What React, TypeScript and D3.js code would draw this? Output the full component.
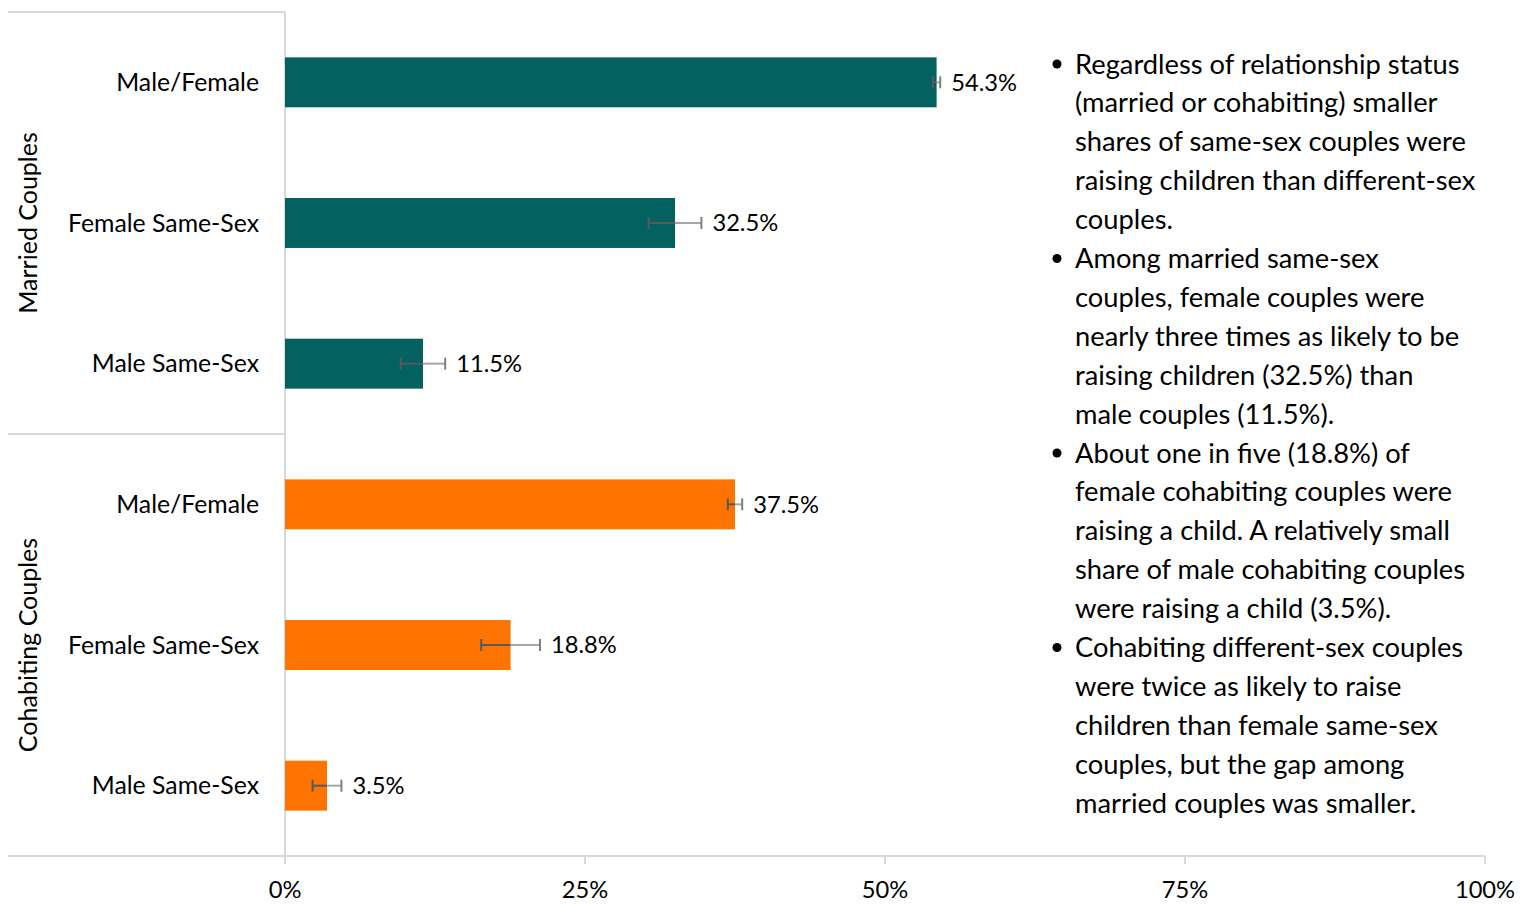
import React from "react";
import * as d3 from "d3";

const categories = ["Male/Female", "Female Same-Sex", "Male Same-Sex", "Male/Female", "Female Same-Sex", "Male Same-Sex"];
const groupOf = ["married", "married", "married", "cohab", "cohab", "cohab"];
const values = [54.3, 32.5, 11.5, 37.5, 18.8, 3.5];
const errors = [0.3, 2.2, 1.85, 0.6, 2.45, 1.2];
const groups = [
  { key: "married", label: "Married Couples" },
  { key: "cohab", label: "Cohabiting Couples" },
];
const ticks = [0, 25, 50, 75, 100];
const bulletParas = [
  ["Regardless of relationship status", "(married or cohabiting) smaller", "shares of same-sex couples were", "raising children than different-sex", "couples."],
  ["Among married same-sex", "couples, female couples were", "nearly three times as likely to be", "raising children (32.5%) than", "male couples (11.5%)."],
  ["About one in five (18.8%) of", "female cohabiting couples were", "raising a child. A relatively small", "share of male cohabiting couples", "were raising a child (3.5%)."],
  ["Cohabiting different-sex couples", "were twice as likely to raise", "children than female same-sex", "couples, but the gap among", "married couples was smaller."],
];

const W = 1533, H = 904;
const FONT = "Lato, 'Open Sans', sans-serif";
const colors: Record<string, string> = { married: "#03625F", cohab: "#FF7300" };

export default function App() {
  const x = d3.scaleLinear().domain([0, 100]).range([285, 1485]);
  const idx = categories.map((_, i) => i);
  const y = d3.scaleBand<number>().domain(idx).range([12, 856]).paddingInner(0.645).paddingOuter(0.3225);
  const step = y.step();
  const fmt = (v: number) => v.toFixed(1) + "%";
  const gridColor = "#D9D9D9";
  const lineH = 38.9;
  let lineCount = 0;
  return (
    <svg width={W} height={H} style={{ position: "absolute", left: 0, top: 0, fontFamily: FONT }}>
      <rect width={W} height={H} fill="#fff" />
      <line x1={8} x2={x(100)} y1={856} y2={856} stroke={gridColor} strokeWidth={2} />
      {ticks.map((t) => (
        <g key={t}>
          <line x1={x(t)} x2={x(t)} y1={856} y2={864} stroke={gridColor} strokeWidth={2} />
          <text x={x(t)} y={898} textAnchor="middle" fontSize={23.7} fill="#000">{t}%</text>
        </g>
      ))}
      <line x1={x(0)} x2={x(0)} y1={12} y2={864} stroke={gridColor} strokeWidth={2} />
      {groups.map((g) => {
        const members = idx.filter((i) => groupOf[i] === g.key);
        const top = (y(members[0]) as number) - (step - y.bandwidth()) / 2;
        const bottom = (y(members[members.length - 1]) as number) + y.bandwidth() + (step - y.bandwidth()) / 2;
        const cy = (top + bottom) / 2;
        return (
          <g key={g.key}>
            <line x1={8} x2={x(0)} y1={top} y2={top} stroke={gridColor} strokeWidth={2} />
            <text transform={`translate(37,${cy}) rotate(-90)`} textAnchor="middle" fontSize={25} fill="#000">{g.label}</text>
          </g>
        );
      })}
      {idx.map((i) => {
        const by = y(i) as number;
        const cy = by + y.bandwidth() / 2;
        const lo = x(values[i] - errors[i]);
        const hi = x(values[i] + errors[i]);
        const barEnd = x(values[i]);
        return (
          <g key={i}>
            <text x={259} y={cy} dy="0.35em" textAnchor="end" fontSize={24.8} fill="#000">{categories[i]}</text>
            <rect x={x(0)} y={by} width={barEnd - x(0)} height={y.bandwidth()} fill={colors[groupOf[i]]} />
            <line x1={lo} x2={Math.min(hi, barEnd)} y1={cy} y2={cy} stroke="#595959" strokeWidth={2} />
            {hi > barEnd && <line x1={barEnd} x2={hi} y1={cy} y2={cy} stroke="#A6A6A6" strokeWidth={2} />}
            <line x1={lo} x2={lo} y1={cy - 6} y2={cy + 6} stroke="#595959" strokeWidth={2} />
            <line x1={hi} x2={hi} y1={cy - 6} y2={cy + 6} stroke={hi > barEnd ? "#7F7F7F" : "#595959"} strokeWidth={2} />
            <text x={hi + 11} y={cy} dy="0.35em" fontSize={23.7} fill="#000">{fmt(values[i])}</text>
          </g>
        );
      })}
      {bulletParas.map((para, pi) => (
        <g key={pi}>
          {para.map((ln, li) => {
            const ly = 64 + lineH * lineCount++;
            return (
              <g key={li}>
                {li === 0 && <circle cx={1057} cy={ly} r={4.5} fill="#000" />}
                <text x={1075} y={ly} dy="0.35em" fontSize={27.3} fill="#000">{ln}</text>
              </g>
            );
          })}
        </g>
      ))}
    </svg>
  );
}
